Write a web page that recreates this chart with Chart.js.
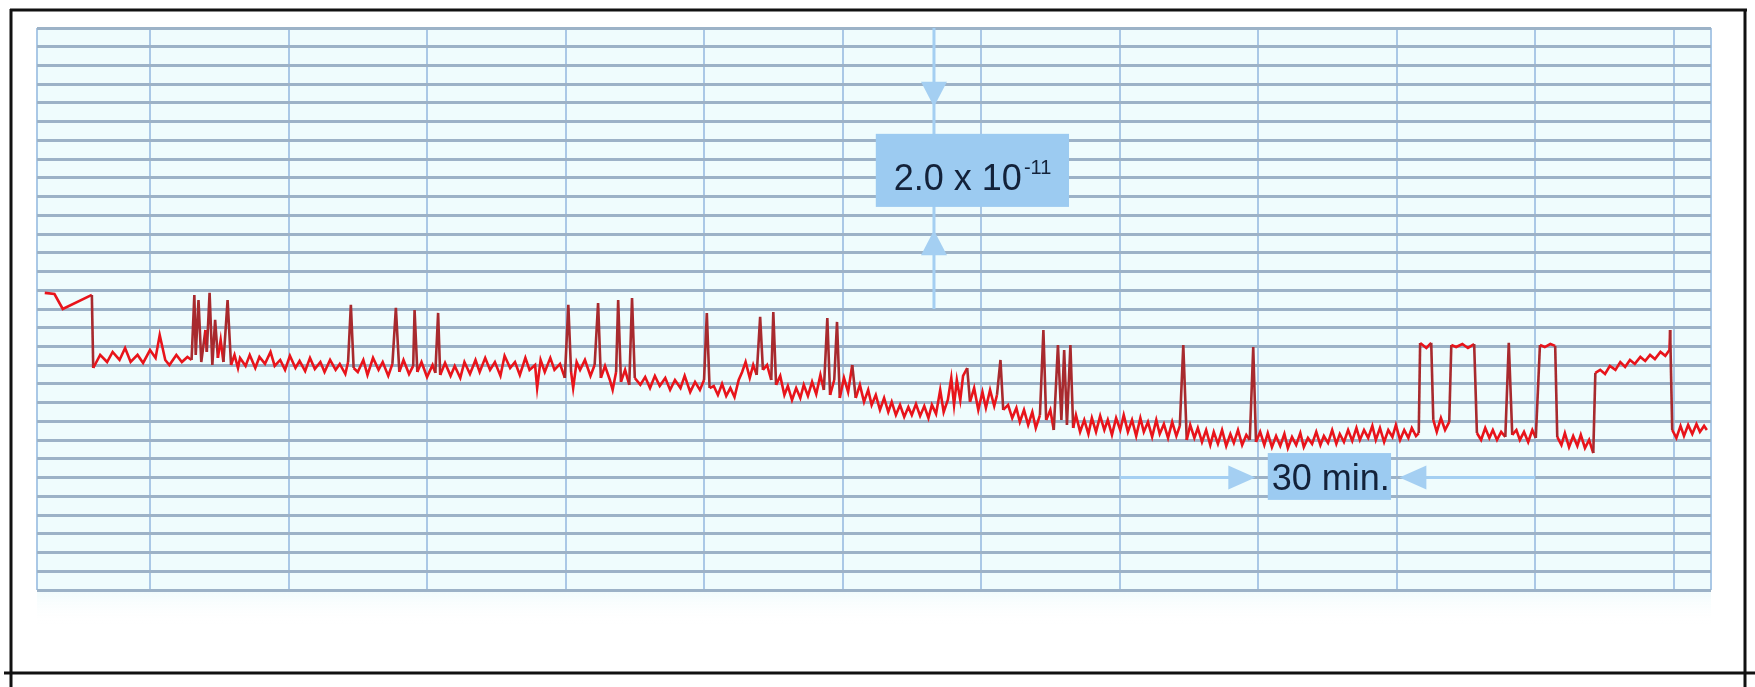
<!DOCTYPE html>
<html>
<head>
<meta charset="utf-8">
<title>Current recording</title>
<script src="https://cdn.jsdelivr.net/npm/chart.js@4.4.1/dist/chart.umd.min.js"></script>
<style>
  html, body { margin: 0; padding: 0; background: #ffffff; }
  #wrap { width: 1755px; height: 687px; }
</style>
</head>
<body>
<div id="wrap"><canvas id="trace" width="1755" height="687"></canvas></div>
<script>
// time in minutes, counted from the first vertical grid line
const times = [
  -7.6, -6.9, -6.3, -4.2, -4.1,
  -3.6, -3.1, -2.7, -2.2, -1.8, -1.4, -0.9, -0.5, 0.0, 0.4, 0.7, 1.1, 1.4, 1.9, 2.3, 2.7,
  3.0, 3.2, 3.3, 3.5, 3.7, 4.0, 4.1, 4.3, 4.5, 4.7, 4.9, 5.1, 5.3, 5.6, 5.85, 6.1, 6.35,
  6.5, 6.9, 7.2, 7.6, 7.9, 8.3, 8.7, 9.0, 9.4, 9.75, 10.1, 10.5, 10.8, 11.2, 11.55, 11.9, 12.3, 12.6, 13.0, 13.4, 13.7, 14.1, 14.3, 14.5, 14.7,
  15.0, 15.4, 15.7, 16.1, 16.5, 16.8, 17.2, 17.5, 17.75, 18.0, 18.3, 18.7, 19.0, 19.1, 19.3, 19.6, 20.0, 20.4, 20.6, 20.8, 20.95, 21.3, 21.7, 22.0, 22.4,
  22.7, 23.1, 23.5, 23.8, 24.2, 24.55, 24.9, 25.3, 25.6, 26.0, 26.35, 26.7, 27.1, 27.4, 27.8, 27.95, 28.2, 28.5, 28.9, 29.2, 29.6, 29.95, 30.2, 30.4, 30.55, 30.8,
  31.05, 31.4, 31.8, 32.1, 32.35, 32.55, 32.85, 33.2, 33.4, 33.65, 33.8, 34.0, 34.3, 34.6, 34.8, 35.0, 35.4,
  35.75, 36.1, 36.45, 36.8, 37.2, 37.55, 37.9, 38.3, 38.6, 39.0, 39.35, 39.7, 40.0, 40.2, 40.4,
  40.7, 41.0, 41.3, 41.6, 41.9, 42.2, 42.5, 42.75, 43.0, 43.3, 43.55, 43.8, 44.05, 44.25, 44.55, 44.85, 45.0, 45.2, 45.5,
  45.8, 46.05, 46.35, 46.65, 46.95, 47.2, 47.5, 47.8, 48.1, 48.4, 48.65, 48.9, 49.1, 49.4, 49.6, 49.8,
  50.1, 50.4, 50.7, 50.95, 51.25, 51.55, 51.85, 52.1, 52.4, 52.7, 53.0, 53.3, 53.55, 53.85, 54.15, 54.45, 54.75,
  55.0, 55.3, 55.6, 55.9, 56.2, 56.45, 56.75, 57.05, 57.3, 57.6, 57.85, 58.05, 58.25, 58.5, 58.7, 59.0, 59.2, 59.5, 59.8, 60.1, 60.35, 60.65, 60.95, 61.15, 61.4, 61.6,
  61.95, 62.25, 62.55, 62.8, 63.1, 63.4, 63.7, 63.95, 64.25, 64.5, 64.7, 65.0, 65.25, 65.55, 65.8, 66.0, 66.2, 66.45, 66.65, 66.85, 67.15,
  67.45, 67.75, 68.0, 68.3, 68.6, 68.9, 69.15, 69.45, 69.75, 70.05, 70.3, 70.6, 70.9, 71.2, 71.5, 71.75, 72.05, 72.35, 72.65, 72.9, 73.2, 73.5, 73.8, 74.1, 74.35, 74.6, 74.85, 75.1, 75.4, 75.65, 75.95, 76.25, 76.55, 76.8, 77.1, 77.4, 77.7, 78.0, 78.25, 78.55, 78.85, 79.15, 79.4, 79.65, 79.85, 80.15,
  80.45, 80.7, 81.0, 81.3, 81.6, 81.9, 82.15, 82.45, 82.75, 83.05, 83.3, 83.6, 83.9, 84.2, 84.5, 84.75, 85.05, 85.35, 85.65, 85.9, 86.2, 86.5, 86.8, 87.1, 87.35, 87.65, 87.95, 88.25, 88.5, 88.8, 89.1, 89.4, 89.7, 89.95, 90.25, 90.55, 90.85, 91.1, 91.4, 91.6,
  91.7, 92.15, 92.5, 92.65, 92.9, 93.2, 93.5, 93.8, 93.95, 94.3, 94.75, 95.15, 95.6, 95.8, 96.1, 96.4, 96.7, 96.95, 97.25, 97.55, 97.85, 98.1, 98.35, 98.65, 98.9, 99.2, 99.5, 99.8, 100.05, 100.35, 100.7, 101.1, 101.45, 101.6, 101.9, 102.15, 102.45, 102.75, 103.05, 103.3, 103.6, 103.9, 104.2,
  104.35, 104.7, 105.05, 105.4, 105.8, 106.15, 106.5, 106.85, 107.2, 107.6, 107.95, 108.3, 108.65, 109.05, 109.4, 109.7, 109.75, 109.9, 110.2, 110.5, 110.75, 111.05, 111.35, 111.65, 111.9, 112.2, 112.4
];

// signal, in chart divisions (one division = one horizontal rule)
const values = [
  15.86, 15.80, 15.00, 15.75, 11.85,
  12.55, 12.17, 12.71, 12.28, 12.92, 12.17, 12.55, 12.12, 12.81, 12.39, 13.61, 12.28, 12.01, 12.55, 12.17, 12.44,
  12.28, 15.75, 12.55, 15.48, 12.17, 13.88, 12.71, 15.86, 12.01, 14.42, 12.39, 13.35, 12.17, 15.48, 12.01, 12.55, 11.85,
  12.39, 11.96, 12.55, 11.85, 12.44, 12.07, 12.71, 11.96, 12.28, 11.75, 12.50, 11.85, 12.23, 11.69, 12.39, 11.80, 12.17, 11.64, 12.28, 11.75, 12.07, 11.53, 12.17, 15.22, 11.85,
  11.64, 12.28, 11.48, 12.39, 11.75, 12.17, 11.43, 12.07, 15.06, 11.64, 12.28, 11.53, 11.96, 14.95, 11.64, 12.17, 11.37, 12.01, 11.59, 14.79, 11.48, 12.12, 11.43, 11.96, 11.32,
  12.17, 11.53, 12.28, 11.64, 12.39, 11.75, 12.17, 11.43, 12.50, 11.85, 12.17, 11.48, 12.39, 11.75, 12.01, 10.78, 12.28, 11.64, 12.39, 11.75, 12.07, 11.32, 15.22, 11.64, 10.78, 12.17,
  11.75, 12.28, 11.43, 12.01, 15.32, 11.32, 11.96, 11.21, 10.68, 11.64, 15.48, 11.11, 11.75, 10.95, 15.59, 11.32, 10.95,
  11.37, 10.78, 11.43, 10.89, 11.32, 10.68, 11.21, 10.78, 11.43, 10.57, 11.11, 10.68, 11.21, 14.79, 10.78,
  10.89, 10.41, 11.00, 10.36, 10.78, 10.30, 11.21, 11.64, 12.17, 11.32, 12.01, 11.48, 14.58, 11.75, 12.01, 11.21, 14.84, 10.95, 11.43,
  10.41, 10.89, 10.14, 10.78, 10.25, 10.95, 10.36, 11.11, 10.46, 11.48, 10.68, 14.52, 10.41, 11.21, 14.31, 10.25,
  11.32, 10.57, 12.01, 10.25, 10.95, 10.04, 10.68, 9.88, 10.41, 9.61, 10.25, 9.50, 10.04, 9.34, 9.88, 9.24, 9.77,
  9.34, 9.93, 9.29, 9.82, 9.18, 9.88, 9.40, 10.68, 9.50, 10.14, 11.32, 9.88, 11.21, 10.14, 11.43, 11.85, 10.04, 10.78, 9.61, 10.57, 9.72, 10.68, 9.82, 10.41, 12.28, 9.61,
  9.88, 9.18, 9.72, 8.97, 9.61, 8.81, 9.50, 8.65, 9.34, 13.88, 9.08, 9.61, 8.54, 13.08, 9.08, 12.81, 8.81, 13.08, 8.65, 9.34, 8.44,
  9.08, 8.33, 9.18, 8.44, 9.29, 8.54, 9.08, 8.28, 9.18, 8.54, 9.34, 8.44, 9.08, 8.22, 9.18, 8.44, 8.97, 8.17, 9.08, 8.33, 8.86, 8.12, 8.97, 8.22, 8.76, 13.08, 8.01, 8.81, 8.12, 8.65, 7.90, 8.54, 7.74, 8.44, 7.80, 8.54, 7.69, 8.33, 7.85, 8.54, 7.74, 8.28, 8.01, 12.97, 7.90, 8.44,
  7.74, 8.38, 7.63, 8.22, 7.69, 8.33, 7.58, 8.17, 7.74, 8.38, 7.63, 8.12, 7.80, 8.44, 7.74, 8.22, 7.85, 8.54, 7.80, 8.33, 7.90, 8.54, 7.96, 8.65, 8.01, 8.54, 8.12, 8.76, 8.01, 8.65, 7.90, 8.54, 8.17, 8.81, 8.01, 8.54, 8.12, 8.65, 8.22, 8.38,
  13.19, 12.92, 13.19, 9.08, 8.44, 9.18, 8.54, 8.97, 13.08, 12.97, 13.13, 12.92, 13.13, 8.38, 8.01, 8.65, 8.12, 8.54, 8.01, 8.44, 8.17, 13.19, 8.28, 8.54, 8.01, 8.44, 7.90, 8.54, 8.12, 13.08, 12.97, 13.13, 13.03, 8.17, 7.74, 8.38, 7.63, 8.22, 7.69, 8.28, 7.58, 8.01, 7.31,
  11.59, 11.75, 11.53, 11.96, 11.75, 12.17, 11.91, 12.28, 12.07, 12.44, 12.23, 12.55, 12.33, 12.71, 12.50, 12.81, 13.88, 8.54, 8.12, 8.76, 8.22, 8.81, 8.33, 8.86, 8.44, 8.76, 8.54
];

// vertical rules every 10 minutes, plus the two edges of the paper
const xGrid = [-8.16, 0, 10, 20, 30, 40, 50, 60, 70, 80, 90, 100, 110, 112.7];
const yDivisions = 30;

// scale bars drawn on the record
const ampBar = { minute: 56.6, from: 15, to: 30, tipDown: 25.8, tipUp: 19.2 };
const ampLabel = { text: "2.0 x 10", sup: "-11", x0: 52.4, x1: 66.35, y0: 20.45, y1: 24.35 };
const timeBar = { from: 70, to: 100, level: 6, tipRight: 79.8, tipLeft: 90.2 };
const timeLabel = { text: "30 min.", x0: 80.7, x1: 89.6, y0: 4.81, y1: 7.31 };

if (times.length !== values.length) console.warn("length mismatch", times.length, values.length);

const traceRed = "#e8141b";
const spikeRed = "#a82a2e";
const barBlue = "#a4cff2";
const boxBlue = "#9ccbf1";
const inkBlue = "#13223a";
const labelFont = "36px 'Liberation Sans', Arial, sans-serif";

function arrowHead(ctx, x, y, dx, dy, len, half) {
  ctx.beginPath();
  ctx.moveTo(x, y);
  ctx.lineTo(x - dx * len - dy * half, y - dy * len + dx * half);
  ctx.lineTo(x - dx * len + dy * half, y - dy * len - dx * half);
  ctx.closePath();
  ctx.fill();
}

const paper = {
  id: "paper",
  beforeDraw(chart) {
    const { ctx, chartArea: a } = chart;
    ctx.save();
    ctx.fillStyle = "#effcfd";
    ctx.fillRect(a.left, a.top, a.right - a.left, a.bottom - a.top);
    const g = ctx.createLinearGradient(0, a.bottom, 0, a.bottom + 35);
    g.addColorStop(0, "rgba(230,248,250,0.6)");
    g.addColorStop(1, "rgba(255,255,255,0)");
    ctx.fillStyle = g;
    ctx.fillRect(a.left, a.bottom, a.right - a.left, 35);
    ctx.restore();
  },
  beforeDatasetsDraw(chart) {
    const { ctx } = chart;
    const xs = chart.scales.x, ys = chart.scales.y;
    ctx.save();
    ctx.strokeStyle = barBlue;
    ctx.fillStyle = barBlue;
    ctx.lineWidth = 3;

    // amplitude bar
    const bx = xs.getPixelForValue(ampBar.minute);
    ctx.beginPath();
    ctx.moveTo(bx, ys.getPixelForValue(ampBar.to));
    ctx.lineTo(bx, ys.getPixelForValue(ampBar.from));
    ctx.stroke();
    arrowHead(ctx, bx, ys.getPixelForValue(ampBar.tipDown), 0, 1, 25, 13);
    arrowHead(ctx, bx, ys.getPixelForValue(ampBar.tipUp), 0, -1, 25, 13);

    // time bar
    const ty = ys.getPixelForValue(timeBar.level);
    const tr = xs.getPixelForValue(timeBar.tipRight);
    const tl = xs.getPixelForValue(timeBar.tipLeft);
    ctx.beginPath();
    ctx.moveTo(xs.getPixelForValue(timeBar.from), ty);
    ctx.lineTo(tr - 10, ty);
    ctx.moveTo(tl + 10, ty);
    ctx.lineTo(xs.getPixelForValue(timeBar.to), ty);
    ctx.stroke();
    arrowHead(ctx, tr, ty, 1, 0, 27, 12);
    arrowHead(ctx, tl, ty, -1, 0, 27, 12);

    // label boxes
    ctx.fillStyle = boxBlue;
    for (const b of [ampLabel, timeLabel]) {
      const x0 = xs.getPixelForValue(b.x0), x1 = xs.getPixelForValue(b.x1);
      const y1 = ys.getPixelForValue(b.y1), y0 = ys.getPixelForValue(b.y0);
      ctx.fillRect(x0, y1, x1 - x0, y0 - y1);
    }

    ctx.fillStyle = inkBlue;
    ctx.textBaseline = "alphabetic";
    ctx.font = labelFont;
    let lx = xs.getPixelForValue(ampLabel.x0) + 18;
    const ly = ys.getPixelForValue(ampLabel.y0) - 17;
    ctx.fillText(ampLabel.text, lx, ly);
    lx += ctx.measureText(ampLabel.text).width + 2;
    ctx.font = "20px 'Liberation Sans', Arial, sans-serif";
    ctx.fillText(ampLabel.sup, lx, ly - 16);

    ctx.font = labelFont;
    ctx.fillText(timeLabel.text, xs.getPixelForValue(timeLabel.x0) + 4, ys.getPixelForValue(timeLabel.y0) - 10);
    ctx.restore();
  },
  afterDraw(chart) {
    const ctx = chart.ctx;
    ctx.save();
    ctx.strokeStyle = "#111111";
    ctx.lineWidth = 3;
    ctx.beginPath();
    ctx.moveTo(10, 10); ctx.lineTo(1747, 10);
    ctx.moveTo(11, 9); ctx.lineTo(11, 687);
    ctx.moveTo(1745, 9); ctx.lineTo(1745, 687);
    ctx.moveTo(4, 673); ctx.lineTo(1755, 673);
    ctx.stroke();
    ctx.restore();
  }
};

const ctx = document.getElementById("trace").getContext("2d");
const traceChart = new Chart(ctx, {
  type: "line",
  data: {
    datasets: [{
      data: times.map((t, i) => ({ x: t, y: values[i] })),
      borderColor: traceRed,
      borderWidth: 2.6,
      pointRadius: 0,
      tension: 0,
      segment: {
        borderColor: c => Math.abs(c.p1.parsed.y - c.p0.parsed.y) > 1.5 ? spikeRed : traceRed
      }
    }]
  },
  options: {
    responsive: false,
    animation: false,
    devicePixelRatio: 1,
    layout: { padding: { left: 37, top: 28, right: 44, bottom: 97 } },
    plugins: { legend: { display: false }, tooltip: { enabled: false } },
    scales: {
      x: {
        type: "linear",
        min: xGrid[0],
        max: xGrid[xGrid.length - 1],
        afterBuildTicks: s => { s.ticks = xGrid.map(v => ({ value: v })); },
        ticks: { display: false },
        grid: { color: "#aac8e6", lineWidth: 2, drawTicks: false },
        border: { display: false }
      },
      y: {
        min: 0,
        max: yDivisions,
        ticks: { display: false, stepSize: 1 },
        grid: { color: "#9cb2c7", lineWidth: 3, drawTicks: false },
        border: { display: false }
      }
    }
  },
  plugins: [paper]
});
</script>
</body>
</html>
